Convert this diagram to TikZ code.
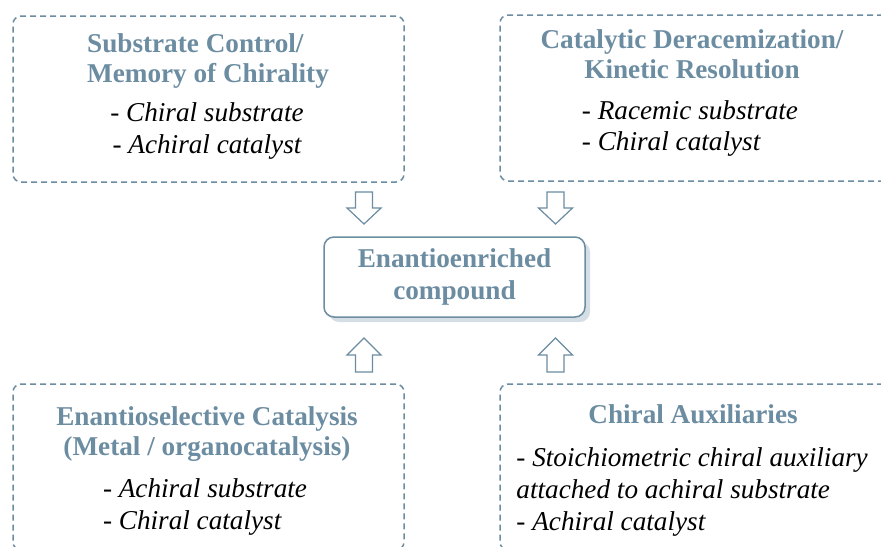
\documentclass[tikz,border=0pt]{standalone}
\usepackage{fontspec}
\setmainfont{Liberation Serif}
\usetikzlibrary{shadows}
\definecolor{steel}{HTML}{6B8CA1}
\definecolor{shade}{HTML}{D5DEE5}

\begin{document}
\begin{tikzpicture}[x=0.5pt,y=-0.5pt,thick,
    box/.style={draw=steel,dash pattern=on 3pt off 2pt,line width=0.75pt,rounded corners=4pt,minimum width=195.5pt,minimum height=83pt},
    heading/.style={text=steel,font=\bfseries\fontsize{13.6}{15}\selectfont,align=center},
    items/.style={font=\itshape\fontsize{13.6}{15.8}\selectfont},
    main node/.style={draw=steel,line width=0.75pt,rounded corners=5pt,fill=white,minimum width=130.5pt,minimum height=40pt,text=steel,font=\bfseries\fontsize{13.6}{16}\selectfont,align=center,drop shadow={shadow xshift=2.5pt,shadow yshift=-2.5pt,fill=shade,opacity=1}},
    blk/.style={draw=steel,line width=0.6pt,fill=white,line join=miter}]

                \clip (0,0) rectangle (881,546);

                \node[box] (tl) at (208.5,99) {};
                \node[box] (tr) at (695.5,98) {};
                \node[box] (bl) at (208.5,467) {};
                \node[box] (br) at (695.5,467) {};

                \node[main node] (c) at (454.5,277) {Enantioenriched\\compound};

                % hollow block arrows
                \draw[blk,shift={(364,208)}] (-8.5,-16) -- (8.5,-16) -- (8.5,0) -- (17,0) -- (0,16) -- (-17,0) -- (-8.5,0) -- cycle;
                \draw[blk,shift={(555.5,208)}] (-8.5,-16) -- (8.5,-16) -- (8.5,0) -- (17,0) -- (0,16) -- (-17,0) -- (-8.5,0) -- cycle;
                \draw[blk,shift={(364,355)}] (-8.5,17) -- (8.5,17) -- (8.5,0) -- (17,0) -- (0,-17) -- (-17,0) -- (-8.5,0) -- cycle;
                \draw[blk,shift={(555.5,355)}] (-8.5,17) -- (8.5,17) -- (8.5,0) -- (17,0) -- (0,-17) -- (-17,0) -- (-8.5,0) -- cycle;

                \node[heading,align=left] (tlh) at (208,61) {Substrate Control/\\Memory of Chirality};
                \node[items,align=center] (tli) at (207,131) {- Chiral substrate\\- Achiral catalyst};

                \node[heading] (trh) at (692,54) {Catalytic Deracemization/\\Kinetic Resolution};
                \node[items,align=left] (tri) at (690,128.5) {- Racemic substrate\\- Chiral catalyst};

                \node[heading] (blh) at (207,434) {Enantioselective Catalysis\\(Metal / organocatalysis)};
                \node[items,align=left] (bli) at (205,507) {- Achiral substrate\\- Chiral catalyst};

                \node[heading] (brh) at (693,414) {Chiral Auxiliaries};
                \node[items,align=left,anchor=west] (bri) at (509,492) {- Stoichiometric chiral auxiliary\\attached to achiral substrate\\- Achiral catalyst};

            \end{tikzpicture}
\end{document}
